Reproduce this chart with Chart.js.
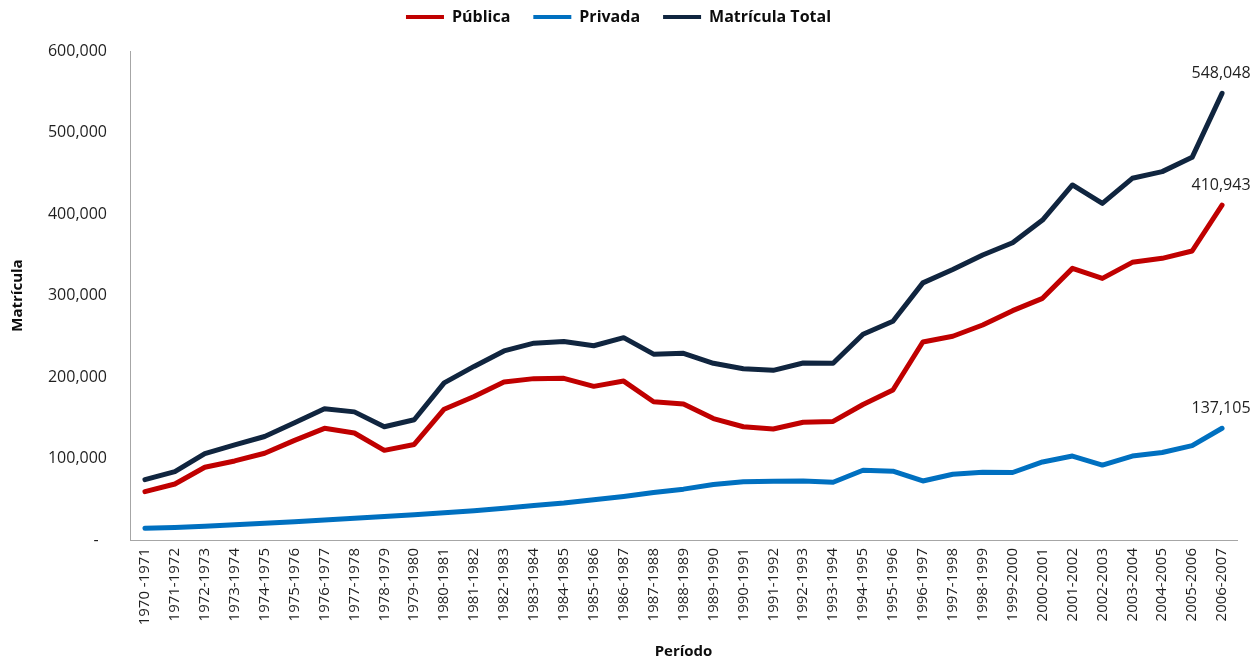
<!DOCTYPE html>
<html>
<head>
<meta charset="utf-8">
<title>Matrícula</title>
<script src="https://cdn.jsdelivr.net/npm/chart.js@4.4.1/dist/chart.umd.min.js"></script>
<style>
  body { margin: 0; background: #fff; }
</style>
</head>
<body>
<canvas id="canvasMatricula" width="1258" height="663"></canvas>
<script>
var periodos = ["1970 -1971", "1971-1972", "1972-1973", "1973-1974", "1974-1975", "1975-1976",
    "1976-1977", "1977-1978", "1978-1979", "1979-1980", "1980-1981", "1981-1982", "1982-1983",
    "1983-1984", "1984-1985", "1985-1986", "1986-1987", "1987-1988", "1988-1989", "1989-1990",
    "1990-1991", "1991-1992", "1992-1993", "1993-1994", "1994-1995", "1995-1996", "1996-1997",
    "1997-1998", "1998-1999", "1999-2000", "2000-2001", "2001-2002", "2002-2003", "2003-2004",
    "2004-2005", "2005-2006", "2006-2007"];

var publica = [59300, 68700, 89200, 97000, 106400, 122200, 137000, 131300, 110000, 117200,
    160500, 176000, 194000, 198000, 198400, 188500, 195000, 169700, 166900, 149000,
    139000, 136200, 144400, 145500, 166200, 184000, 243000, 250000, 263800, 281400,
    296500, 333300, 321000, 340700, 345600, 354600, 410943];

var privada = [14300, 15400, 17000, 18800, 20700, 22400, 24600, 26600, 28800, 31000,
    33400, 36000, 39000, 42200, 45300, 49300, 53400, 58300, 62400, 68000,
    71600, 72000, 72400, 70800, 85600, 84500, 72400, 80600, 83000, 82800,
    95800, 103000, 92000, 103000, 107300, 115800, 137105];

var total = [74000, 83800, 106000, 116800, 127000, 143800, 161000, 157200, 139000, 147500,
    192800, 213000, 232000, 241500, 243600, 238300, 248300, 228000, 229000, 216800,
    210200, 208200, 217200, 216800, 252500, 268500, 315500, 332000, 349700, 364800,
    392600, 435600, 413000, 443800, 452000, 469500, 548048];

var yTicks = [0, 100000, 200000, 300000, 400000, 500000, 600000];

var fmt = function(v) {
    return v.toLocaleString('en-US');
};

Chart.defaults.font.family = "'Open Sans', sans-serif";
Chart.defaults.color = '#1f1f1f';

// value label over the last point of every line
var lastLabels = {
    id: 'lastLabels',
    afterDatasetsDraw: function(chart) {
        var ctx = chart.ctx;
        ctx.save();
        ctx.font = "16px 'Open Sans', sans-serif";
        ctx.fillStyle = '#1f1f1f';
        ctx.textAlign = 'center';
        ctx.textBaseline = 'middle';
        chart.data.datasets.forEach(function(ds, i) {
            var pts = chart.getDatasetMeta(i).data;
            var p = pts[pts.length - 1];
            ctx.fillText(fmt(ds.data[ds.data.length - 1]), p.x - 1, p.y - 20);
        });
        ctx.restore();
    }
};

var ctx = document.getElementById('canvasMatricula').getContext('2d');
var config = {
    type: 'line',
    data: {
        labels: periodos,
        datasets: [{
            label: 'Pública',
            data: publica,
            borderColor: '#c00000',
            backgroundColor: '#c00000'
        }, {
            label: 'Privada',
            data: privada,
            borderColor: '#0070c0',
            backgroundColor: '#0070c0'
        }, {
            label: 'Matrícula Total',
            data: total,
            borderColor: '#10253f',
            backgroundColor: '#10253f'
        }]
    },
    options: {
        responsive: false,
        devicePixelRatio: 1,
        animation: false,
        events: [],
        layout: { padding: { top: -14, right: 21, bottom: 0, left: 0 } },
        elements: {
            line: { borderWidth: 5, tension: 0, borderCapStyle: 'round', borderJoinStyle: 'round' },
            point: { radius: 0 }
        },
        plugins: {
            tooltip: { enabled: false },
            legend: {
                position: 'top',
                labels: {
                    boxWidth: 38,
                    boxHeight: 4,
                    padding: 23,
                    color: '#0d0d0d',
                    font: { size: 16, weight: 'bold' },
                    generateLabels: function(chart) {
                        var items = Chart.defaults.plugins.legend.labels.generateLabels(chart);
                        items.forEach(function(it) {
                            it.fillStyle = it.strokeStyle;
                            it.lineWidth = 0;
                        });
                        return items;
                    }
                }
            },
            // empty spacer between legend and plot
            subtitle: {
                display: true,
                text: '',
                weight: 500,
                font: { size: 10 },
                padding: { top: 4, bottom: 0 }
            }
        },
        scales: {
            x: {
                offset: true,
                grid: { display: false, drawTicks: false },
                border: { display: true, color: '#a6a6a6', width: 1 },
                ticks: {
                    autoSkip: false,
                    minRotation: 90,
                    maxRotation: 90,
                    padding: 8,
                    font: { size: 15 }
                },
                title: {
                    display: true,
                    text: 'Período',
                    color: '#0d0d0d',
                    font: { size: 15, weight: 'bold' },
                    padding: { top: 0, bottom: 2 }
                },
                afterFit: function(scale) {
                    scale.height = 123;
                }
            },
            y: {
                min: 0,
                max: 600000,
                afterBuildTicks: function(scale) {
                    scale.ticks = yTicks.map(function(v) { return { value: v }; });
                },
                grid: { display: false, drawTicks: false },
                border: { display: true, color: '#a6a6a6', width: 1 },
                ticks: {
                    padding: 23,
                    font: { size: 16 },
                    callback: function(v) {
                        return v === 0 ? '-  ' : fmt(v);
                    }
                },
                title: {
                    display: true,
                    text: 'Matrícula',
                    color: '#0d0d0d',
                    font: { size: 15, weight: 'bold' },
                    padding: { top: 9, bottom: 0 }
                },
                afterFit: function(scale) {
                    scale.width = 130;
                }
            }
        }
    },
    plugins: [lastLabels]
};

var chart = new Chart(ctx, config);
</script>
</body>
</html>
